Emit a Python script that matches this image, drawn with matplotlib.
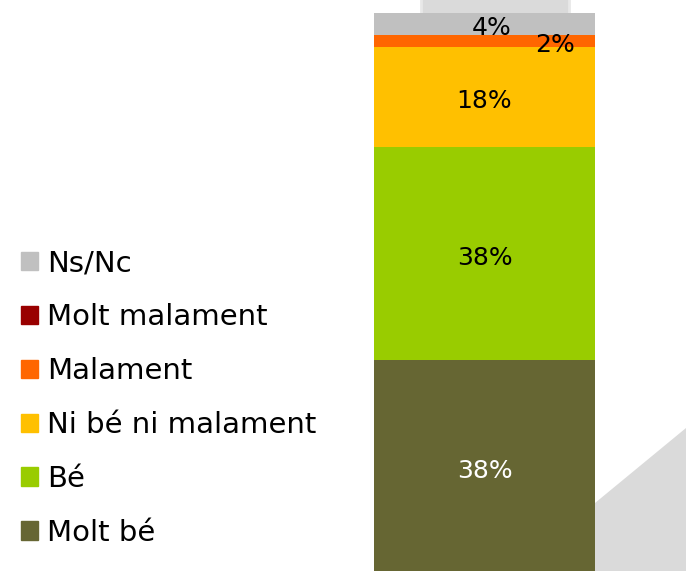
import matplotlib
matplotlib.use("Agg")

import matplotlib.pyplot as plt
import matplotlib.patches as mpatches

# ── data (bottom to top) ──
categories = ["Molt bé", "Bé", "Ni bé ni malament", "Malament", "Molt malament", "Ns/Nc"]
values = [38, 38, 18, 2, 0, 4]
colors = ["#666633", "#99CC00", "#FFC000", "#FF6600", "#990000", "#C0C0C0"]
labels = ["38%", "38%", "18%", "2%", "", "4%"]
label_colors = ["white", "black", "black", "black", "black", "black"]
label_dx = [0, 0, 0, 0.32, 0, 0.03]  # offsets in bar widths

W, H = 686, 571
fig = plt.figure(figsize=(W / 100, H / 100), dpi=100)
fig.patch.set_facecolor("white")
plt.rcParams["font.family"] = ["DejaVu Sans"]

# background decoration (behind everything)
bg = fig.add_axes([0, 0, 1, 1], zorder=-1)
bg.set_xlim(0, W)
bg.set_ylim(H, 0)
bg.axis("off")
bg.add_patch(mpatches.Rectangle((421, -5), 148, 60, facecolor="#DADADA",
                                edgecolor="#E8E8E8", linewidth=2))
bg.add_patch(mpatches.Polygon([(595, 503), (W, 428), (W, H), (595, H)],
                              closed=True, facecolor="#DADADA", edgecolor="none"))

ax = fig.add_axes([374 / W, -2 / H, 221 / W, 560 / H])
ax.set_xlim(-0.5, 0.5)
ax.set_ylim(0, 100)
ax.axis("off")
ax.patch.set_alpha(0)

bottom = 0
handles = []
for cat, v, c, lab, lc, dx in zip(categories, values, colors, labels, label_colors, label_dx):
    ax.bar(0, v, width=1.0, bottom=bottom, color=c, edgecolor="none", zorder=2)
    if lab:
        ax.text(dx, bottom + v / 2 - 0.7, lab, ha="center", va="center",
                fontsize=18, color=lc, zorder=3, clip_on=False)
    handles.append(mpatches.Patch(color=c, label=cat))
    bottom += v

leg = fig.legend(handles=handles[::-1], loc="upper left",
                 bbox_to_anchor=(21 / W, 1 - 249 / H), frameon=False,
                 fontsize=21, handlelength=0.58, handleheight=0.58,
                 handletextpad=0.3, labelspacing=0.89, borderaxespad=0,
                 borderpad=0)

fig.savefig("out.png", dpi=100, facecolor="white")
